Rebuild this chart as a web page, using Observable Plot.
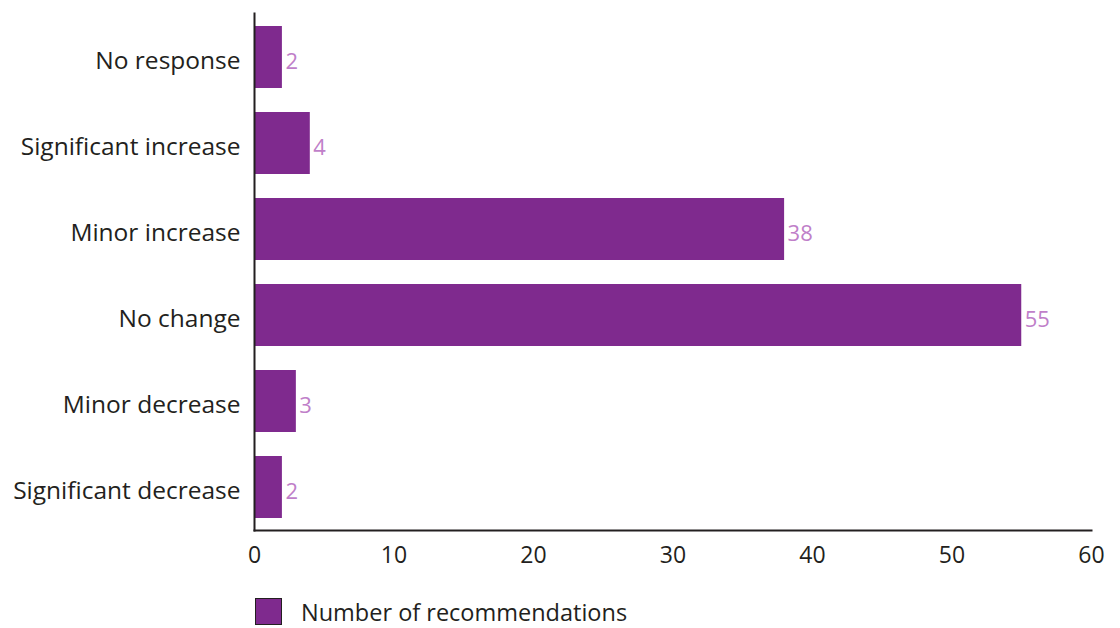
<!DOCTYPE html>
<html>
<head>
<meta charset="utf-8">
<script src="https://cdn.jsdelivr.net/npm/d3@7"></script>
<script src="https://cdn.jsdelivr.net/npm/@observablehq/plot@0.6"></script>
<style>
  html, body { margin: 0; padding: 0; background: #fff; }
  body { width: 1120px; height: 628px; overflow: hidden; font-family: "Open Sans", sans-serif; position: relative; }
  #legend { position: absolute; left: 255px; top: 598px; display: flex; align-items: center; font-size: 23.5px; line-height: 26px; color: #231f20; }
  #legend .sw { width: 25px; height: 25px; background: #7f2a8e; border: 1px solid #231f20; margin-right: 19px; }
</style>
</head>
<body>
<div id="chart"></div>
<div id="legend"><div class="sw"></div><span>Number of recommendations</span></div>
<script>
const categories = ["No response", "Significant increase", "Minor increase", "No change", "Minor decrease", "Significant decrease"];
const values = [2, 4, 38, 55, 3, 2];
const xTicks = [0, 10, 20, 30, 40, 50, 60];

const data = categories.map((c, i) => ({category: c, value: values[i]}));

const chart = Plot.plot({
  width: 1120,
  height: 585,
  marginLeft: 254,
  marginRight: 29,
  marginTop: 13,
  marginBottom: 55,
  style: {fontFamily: "Open Sans, sans-serif", fontSize: "22px", color: "#231f20", background: "#fff"},
  x: {domain: [0, 60], label: null},
  y: {domain: categories, paddingInner: 0.28, paddingOuter: 0.14, label: null},
  marks: [
    Plot.barX(data, {x: "value", y: "category", fill: "#7f2a8e"}),
    Plot.text(data, {x: "value", y: "category", text: d => String(d.value), textAnchor: "start", dx: 3, dy: 4, fill: "#c07fc9", fontSize: 22}),
    Plot.axisX({ticks: xTicks, tickSize: 0, tickPadding: 16, fontSize: 23, label: null}),
    Plot.axisY({tickSize: 0, tickPadding: 14, dy: 4, fontSize: 24.5, label: null}),
    Plot.frame({anchor: "left", stroke: "#231f20", strokeWidth: 2}),
    Plot.frame({anchor: "bottom", stroke: "#231f20", strokeWidth: 2})
  ]
});
document.getElementById("chart").appendChild(chart);
</script>
</body>
</html>
